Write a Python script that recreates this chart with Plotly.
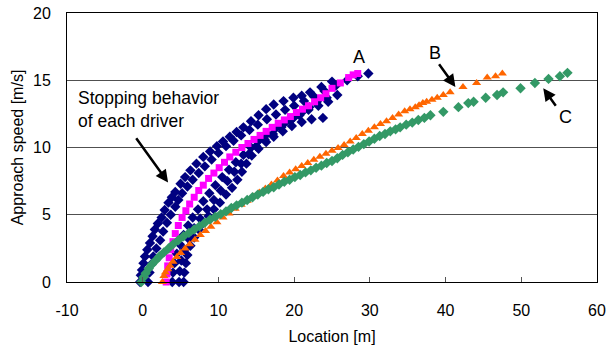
import plotly.graph_objects as go

# ---------------- data ----------------
# Individual drivers (navy diamonds)
driver1_x = [-0.35, -0.25, -0.1, 0.1, 0.3, 0.6, 0.96, 1.3, 1.6, 2.0, 2.5, 2.9, 3.4, 3.85, 4.3, 5.0, 5.6, 6.3, 7.1, 8.0,
             8.9, 9.8, 10.6, 11.5, 12.4, 13.3, 14.3, 15.3, 16.3, 17.3, 18.6, 19.9, 21.0, 22.1, 23.6, 25.0]
driver1_y = [0.0, 0.5, 0.9, 1.4, 1.9, 2.4, 2.9, 3.4, 3.9, 4.35, 4.8, 5.35, 5.9, 6.3, 6.7, 7.3, 7.8, 8.3, 8.8, 9.3,
             9.7, 10.1, 10.45, 10.8, 11.15, 11.5, 11.95, 12.4, 12.85, 13.2, 13.45, 13.7, 13.85, 14.1, 14.5, 14.9]

driver2_x = [0.7, 0.9, 1.1, 1.4, 1.8, 2.3, 2.7, 3.2, 3.7, 4.3, 4.7, 5.2, 5.9, 6.6, 7.4, 8.2, 9.1, 10.0, 11.0, 12.0,
             13.0, 14.1, 15.2, 16.4, 17.6, 18.8, 20.0, 21.3, 22.6, 24.0, 25.5, 27.0, 28.4, 29.8]
driver2_y = [0.0, 0.7, 1.3, 1.9, 2.5, 3.1, 3.75, 4.4, 5.0, 5.6, 6.1, 6.6, 7.1, 7.6, 8.1, 8.6, 9.1, 9.6, 10.1, 10.5,
             10.9, 11.3, 11.7, 12.1, 12.45, 12.8, 13.1, 13.45, 13.8, 14.2, 14.6, 15.0, 15.3, 15.5]

driver3_x = [3.9, 4.0, 4.2, 4.5, 4.9, 5.4, 6.0, 6.6, 7.3, 8.0, 8.8, 9.6, 10.5, 11.4, 12.3, 13.3, 14.3, 15.3, 16.4,
             17.5, 18.7, 19.9, 21.0, 22.0, 23.0, 24.3, 25.7]
driver3_y = [0.0, 0.7, 1.4, 2.1, 2.8, 3.5, 4.2, 4.8, 5.4, 6.0, 6.6, 7.2, 7.8, 8.35, 8.9, 9.45, 10.0, 10.5, 11.0,
             11.4, 11.8, 12.2, 12.6, 13.0, 13.4, 13.7, 13.9]

driver4_x = [5.4, 5.5, 5.7, 5.9, 6.3, 6.8, 7.4, 8.0, 8.7, 9.4, 10.2, 11.0, 11.8, 12.5, 13.1, 13.7, 14.4, 15.3, 16.3,
             17.3, 18.5, 19.7, 21.0, 22.3, 23.8]
driver4_y = [0.0, 0.7, 1.4, 2.0, 2.7, 3.3, 3.9, 4.4, 4.9, 5.4, 5.9, 6.5, 7.0, 7.6, 8.2, 8.8, 9.4, 9.9, 10.4,
             10.8, 11.2, 11.6, 11.9, 12.1, 12.2]

driver5_x = [4.8, 4.9, 5.1, 5.5, 6.1, 6.8, 7.6, 8.5, 9.4, 10.3, 11.2, 12.1, 13.0, 14.0, 15.0, 16.1, 17.2, 18.3,
             19.5, 20.7, 21.9, 23.2, 24.5]
driver5_y = [0.0, 0.8, 1.6, 2.4, 3.2, 4.0, 4.7, 5.4, 6.1, 6.8, 7.5, 8.2, 8.8, 9.5, 10.1, 10.6, 11.0, 11.5,
             12.0, 12.4, 12.8, 13.1, 13.4]

# Model A (magenta squares)
a_x = [3.1, 3.2, 3.3, 3.5, 3.7, 4.0, 4.3, 4.7, 5.2, 5.7, 6.2, 6.8, 7.4, 8.0, 8.7, 9.4, 10.1, 10.8, 11.5, 12.3,
       13.1, 13.9, 14.7, 15.5, 16.3, 17.1, 17.9, 18.7, 19.5, 20.3, 21.1, 21.9, 22.7, 23.5, 24.2, 25.0, 26.1,
       27.2, 27.8, 28.4]
a_y = [0.0, 0.6, 1.2, 1.8, 2.4, 3.0, 3.6, 4.2, 4.8, 5.3, 5.8, 6.3, 6.8, 7.2, 7.7, 8.1, 8.5, 8.9, 9.3, 9.65,
       10.0, 10.3, 10.6, 10.9, 11.2, 11.5, 11.8, 12.05, 12.3, 12.6, 12.85, 13.1, 13.4, 13.7, 14.0, 14.4, 14.8,
       15.2, 15.4, 15.5]

# Model B (orange triangles)
b_x = [2.6, 2.8, 3.0, 3.3, 3.6, 4.0, 4.5, 5.0, 5.6, 6.2, 6.9, 7.6, 8.3, 9.0, 9.8, 10.6, 11.4, 12.2, 13.0, 13.8,
       14.6, 15.4, 16.2, 17.0, 17.8, 18.6, 19.4, 20.2, 21.0, 21.8, 22.6, 23.4, 24.2, 25.0, 25.8, 26.6, 27.4,
       28.2, 29.0, 29.8, 30.6, 31.4, 32.2, 33.0, 33.8, 34.6, 35.3, 36.0, 36.5, 37.0, 37.5, 38.2, 38.9, 39.7,
       40.6, 42.3, 44.1, 45.5, 46.6, 47.5]
b_y = [0.0, 0.45, 0.7, 0.95, 1.2, 1.5, 1.85, 2.15, 2.5, 2.8, 3.15, 3.5, 3.8, 4.1, 4.45, 4.8, 5.1, 5.45,
       5.75, 6.05, 6.35, 6.65, 6.95, 7.25, 7.55, 7.89, 8.14, 8.38, 8.62, 8.85, 9.08, 9.31, 9.54, 9.76, 9.97,
       10.19, 10.45, 10.7, 11.0, 11.25, 11.5, 11.75, 11.95, 12.2, 12.45, 12.7, 12.85, 13.0, 13.15, 13.3, 13.4,
       13.55, 13.7, 13.9, 14.1, 14.5, 14.8, 15.2, 15.3, 15.5]

# Model C (green diamonds)
c_x = [-0.2, 0.1, 0.4, 0.8, 1.2, 1.7, 2.2, 2.8, 3.4, 4.0, 4.7, 5.4, 6.1, 6.8, 7.5, 8.2, 8.9, 9.6, 10.3, 11.0,
       11.7, 12.4, 13.1, 13.8, 14.5, 15.2, 15.9, 16.6, 17.3, 18.0, 18.7, 19.4, 20.1, 20.8, 21.5, 22.2, 22.9,
       23.6, 24.3, 25.0, 25.7, 26.4, 27.1, 27.8, 28.5, 29.2, 29.9, 30.6, 31.3, 32.0, 32.7, 33.4, 34.0, 34.8,
       35.6, 36.4, 37.2, 38.0, 39.7, 41.7, 43.0, 43.7, 45.3, 46.8, 47.6, 49.9, 51.8, 53.6, 55.1, 56.1]
c_y = [0.0, 0.35, 0.65, 1.0, 1.3, 1.6, 1.9, 2.2, 2.5, 2.8, 3.1, 3.4, 3.65, 3.9, 4.15, 4.4, 4.65, 4.85, 5.05,
       5.25, 5.5, 5.7, 5.9, 6.1, 6.3, 6.5, 6.7, 6.9, 7.05, 7.25, 7.45, 7.6, 7.8, 7.95, 8.15, 8.3, 8.5, 8.65,
       8.85, 9.0, 9.2, 9.45, 9.65, 9.85, 10.05, 10.25, 10.45, 10.65, 10.85, 11.0, 11.2, 11.35, 11.5, 11.7,
       11.85, 12.05, 12.2, 12.4, 12.65, 13.0, 13.3, 13.4, 13.7, 13.9, 14.1, 14.4, 14.8, 15.1, 15.3, 15.55]

x_ticks = [-10, 0, 10, 20, 30, 40, 50, 60]
y_ticks = [0, 5, 10, 15, 20]

NAVY = "#000080"
MAGENTA = "#FF00FF"
ORANGE = "#FF6600"
GREEN = "#339966"
FONT = "Liberation Sans, Arial, sans-serif"

fig = go.Figure()

drivers = [(driver1_x, driver1_y), (driver2_x, driver2_y), (driver3_x, driver3_y),
           (driver4_x, driver4_y), (driver5_x, driver5_y)]
for i, (dx, dy) in enumerate(drivers):
    fig.add_trace(go.Scatter(x=dx, y=dy, mode="markers", name=f"Driver {i+1}",
                             marker=dict(symbol="diamond", size=8, color=NAVY, line=dict(width=0)),
                             showlegend=False, cliponaxis=False))

fig.add_trace(go.Scatter(x=a_x, y=a_y, mode="markers", name="A",
                         marker=dict(symbol="square", size=7, color=MAGENTA, line=dict(width=0)),
                         showlegend=False, cliponaxis=False))
fig.add_trace(go.Scatter(x=b_x, y=b_y, mode="markers", name="B",
                         marker=dict(symbol="triangle-up", size=8, color=ORANGE, line=dict(width=0)),
                         showlegend=False, cliponaxis=False))
fig.add_trace(go.Scatter(x=c_x, y=c_y, mode="markers", name="C",
                         marker=dict(symbol="diamond", size=8, color=GREEN, line=dict(width=0)),
                         showlegend=False, cliponaxis=False))

# Annotations
fig.add_annotation(x=28.6, y=16.7, text="A", showarrow=False, font=dict(size=18, color="black"))
fig.add_annotation(x=41.3, y=14.5, ax=39.0, ay=16.3, axref="x", ayref="y", text="",
                   showarrow=True, arrowhead=2, arrowsize=1, arrowwidth=2.5, arrowcolor="black")
fig.add_annotation(x=38.6, y=17.0, text="B", showarrow=False, font=dict(size=18, color="black"))
fig.add_annotation(x=52.9, y=14.4, ax=54.7, ay=13.0, axref="x", ayref="y", text="",
                   showarrow=True, arrowhead=2, arrowsize=1, arrowwidth=2.5, arrowcolor="black")
fig.add_annotation(x=55.8, y=12.3, text="C", showarrow=False, font=dict(size=18, color="black"))
fig.add_annotation(x=3.35, y=7.4, ax=-1.0, ay=10.8, axref="x", ayref="y", text="",
                   showarrow=True, arrowhead=2, arrowsize=1, arrowwidth=2.5, arrowcolor="black")
fig.add_annotation(x=-8.8, y=12.8, text="Stopping behavior<br>of each driver", showarrow=False,
                   xanchor="left", yanchor="middle", align="left",
                   font=dict(size=17.5, color="black"))

fig.update_layout(
    width=607, height=349,
    margin=dict(l=67, r=10, t=13, b=67, autoexpand=False),
    paper_bgcolor="white", plot_bgcolor="white",
    font=dict(family=FONT, size=16, color="black"),
)
fig.update_xaxes(range=[-10, 60], tickvals=x_ticks, ticktext=[str(v) for v in x_ticks],
                 showgrid=False, zeroline=False, automargin=False, ticklabeloverflow="allow",
                 showline=True, linecolor="black", linewidth=1, mirror=True,
                 ticks="inside", ticklen=5, tickcolor="#555", ticklabelstandoff=14,
                 title=dict(text="Location [m]", standoff=12, font=dict(size=16)))
fig.update_yaxes(range=[0, 20], tickvals=y_ticks, ticktext=[str(v) for v in y_ticks],
                 showgrid=True, gridcolor="#505050", gridwidth=1, zeroline=False, automargin=False,
                 ticklabeloverflow="allow",
                 showline=True, linecolor="black", linewidth=1, mirror=True,
                 ticks="", ticklabelstandoff=12,
                 title=dict(text="Approach speed [m/s]", standoff=5, font=dict(size=16)))

# remove the default 8px page margin so the figure sits at the window's top-left corner
fig.write_html("out.html", config={"displayModeBar": False},
               post_script="document.body.style.margin='0';")
